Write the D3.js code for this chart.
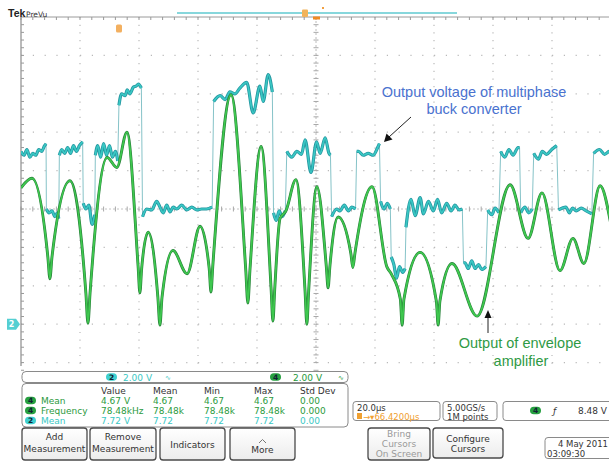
<!DOCTYPE html>
<html lang="en">
<head>
<meta charset="utf-8">
<title>Tek PreVu - envelope amplifier and multiphase buck output</title>
<script type="text/javascript" src="https://cdn.jsdelivr.net/npm/d3@7/dist/d3.min.js"></script>
<style type="text/css">
body { margin: 0; background: #fff; }
svg { display: block; font-family: "DejaVu Sans", sans-serif; }
</style>
</head>
<body>
<script type="text/javascript">

// window size
var w = 609;
var h = 462;

// 20 us/div on the time axis, 2 V/div for both channels
var timeTicks = d3.range(0, 201, 20);
var voltTicks = d3.range(-2, 16, 2);

// channel 2 (cyan): multilevel buck output, one array per flat level [us, V]
var ch2Segments = [
    [[0,9.0],[1,8.8],[2,9.1],[3,8.7],[4,8.9],[5,8.8],[6,9.1],[7,9.0],[8,9.3],[8.5,9.4]],
    [[8.6,6.0],[9.5,5.8],[10.5,5.9],[11.5,5.6],[12.3,5.8],[12.8,5.5]],
    [[13.0,8.8],[13.8,9.1],[14.8,8.9],[15.8,9.2],[16.8,8.9],[17.8,9.3],[18.8,9.0],[19.8,9.3],[20.9,9.5]],
    [[21.1,6.3],[22.0,6.0],[23.0,6.2],[24.1,5.2],[25.0,5.7]],
    [[25.2,8.8],[26.0,9.3],[27.0,8.7],[28.0,9.4],[29.0,8.8],[30.0,9.3],[31.0,8.7],[32.0,9.0],[32.8,8.5]],
    [[33.2,11.4],[34.1,12.0],[35.3,11.9],[36.0,12.2],[36.9,12.0],[38.1,12.35],[39.0,12.4],[39.8,12.5],[40.8,12.3]],
    [[41.2,5.6],[42.6,6.0],[44.3,5.95],[46.0,6.4],[47.1,6.1],[48.2,5.8],[49.4,6.2],[50.5,5.85],[51.6,6.1],[52.8,6.0],[54.5,6.2],[56.2,5.95],[57.9,6.1],[59.6,5.95],[61.2,6.0],[62.9,6.0],[64.8,6.1]],
    [[65.3,11.6],[67.5,11.9],[69.2,11.7],[70.8,12.1],[72.5,12.0],[74.2,12.3],[76.5,12.6],[78.7,11.0],[81.0,12.4],[82.1,11.6],[83.8,13.0],[85.2,12.1]],
    [[85.6,5.8],[86.5,5.4],[87.5,5.9],[88.5,5.6],[89.6,5.9]],
    [[90.1,9.0],[91.8,8.7],[93.5,9.0],[95.1,8.85],[96.3,9.6],[98.3,7.9],[100.2,9.5],[101.4,8.9],[103.1,9.7],[104.4,8.9],[104.9,8.8]],
    [[105.3,5.6],[107.0,6.0],[108.1,5.9],[109.6,6.2],[111.0,5.9],[112.1,6.1],[113.4,6.0]],
    [[113.8,9.0],[114.4,9.0],[116.0,8.8],[117.7,8.9],[119.4,8.8],[120.9,9.2],[121.5,9.4]],
    [[121.9,6.4],[123.0,6.0],[124.2,6.3],[125.2,6.0]],
    [[125.5,3.5],[126.4,3.1],[127.3,2.4],[128.3,3.0],[129.4,2.7],[130.2,2.9]],
    [[130.5,5.05],[132.2,6.5],[133.6,5.65],[135.3,6.6],[136.4,5.75],[138.1,6.4],[139.8,5.9],[141.2,6.5],[142.6,5.8],[144.3,6.3],[145.8,5.9],[147.1,6.2],[148.5,5.95],[149.6,6.0]],
    [[150.0,3.2],[150.5,3.2],[151.6,2.9],[152.8,3.3],[153.9,2.9],[155.1,3.1],[156.2,2.85],[157.6,3.0]],
    [[158.2,5.95],[159.6,5.7],[160.7,6.05],[162.0,5.8]],
    [[162.6,9.0],[164.0,8.7],[165.4,9.1],[166.8,8.8],[168.5,9.2],[169.0,9.2]],
    [[169.4,5.8],[170.8,6.1],[172.1,5.8],[173.3,6.0]],
    [[173.8,8.9],[175.4,8.6],[176.7,9.0],[178.2,8.85],[179.9,9.1],[181.6,9.3]],
    [[182.2,5.95],[184.7,6.1],[185.9,5.8],[187.0,6.05],[188.2,5.9],[189.9,6.05],[191.6,5.9],[193.5,5.75]],
    [[194.1,8.9],[196.1,9.1],[197.8,8.85],[199.5,9.0],[200,8.9]]
];

// channel 4 (green): envelope amplifier output [us, V]
var ch4Trace = [
    [0,7.1],[3.7,7.6],[9.1,3.5],[9.8,2.37],[10.5,3.5],[16.6,7.47],
    [22.0,1.6],[22.7,0.05],[23.4,1.6],[29.2,8.68],[32.5,8.16],[35.9,10.0],
    [39.7,3.0],[40.3,1.63],[40.9,2.9],[43.1,4.79],[46.4,1.4],[47.1,-0.05],[47.8,1.4],
    [51.5,3.84],[56.3,2.63],[60.7,5.1],[63.8,2.9],[64.4,1.68],[65.0,3.0],
    [71.2,11.95],[76.2,2.8],[76.9,1.1],[77.6,2.8],[81.4,9.26],
    [84.8,1.8],[85.4,0.16],[86.0,1.8],[87.8,5.5],[89.8,5.9],[93.2,7.53],
    [96.3,1.7],[96.9,0.0],[97.5,1.7],[100.3,7.16],[103.5,3.0],[104.1,1.89],[104.7,3.0],
    [107.5,5.58],[111.8,3.7],[112.5,2.95],[113.2,3.7],[119.0,7.16],
    [124.0,3.0],[125.6,2.6],[128.6,1.3],[129.2,-0.05],[129.8,1.3],[135.3,3.74],
    [140.8,1.2],[141.4,-0.05],[142.0,1.2],[146.1,3.16],[154.6,0.42],[165.8,7.26],
    [171.9,4.47],[176.6,6.84],[182.7,2.79],[187.1,4.47],[190.8,3.16],[196.3,7.21],[200,5.16]
];

// readouts
var chScales = ["2.00 V", "2.00 V"];
var measHeaders = ["Value", "Mean", "Min", "Max", "Std Dev"];
var measChannels = ["4", "4", "2"];
var measNames = ["Mean", "Frequency", "Mean"];
var measValues = [
    ["4.67 V", "4.67", "4.67", "4.67", "0.00"],
    ["78.48kHz", "78.48k", "78.48k", "78.48k", "0.000"],
    ["7.72 V", "7.72", "7.72", "7.72", "0.00"]
];

var cyan = "#3ac8c4", cyanDark = "#2596a0", green = "#3fc84f", greenDark = "#267f38";
var measColX = [101, 153, 204, 254, 300];

var xScale = d3.scaleLinear().domain([0, 200]).range([21, 611]);
var yScale = d3.scaleLinear().domain([-4, 16]).range([401, 17]);

var svg = d3.select("body")
            .append("svg")
            .attr("width", w)
            .attr("height", h);

//Graticule
var grid = svg.append("g");

grid.selectAll(".vgrid")
    .data(timeTicks.filter(function(d) { return d > 0 && d != 100; }))
    .enter()
    .append("line")
    .attr("x1", function(d) { return xScale(d); })
    .attr("x2", function(d) { return xScale(d); })
    .attr("y1", yScale(16))
    .attr("y2", 364)
    .attr("stroke", "#b9b9b9")
    .attr("stroke-width", 1.2)
    .attr("stroke-dasharray", "1.2,6.48");

grid.selectAll(".hgrid")
    .data(voltTicks.filter(function(d) { return d != 6; }))
    .enter()
    .append("line")
    .attr("x1", xScale(0))
    .attr("x2", w)
    .attr("y1", function(d) { return yScale(d); })
    .attr("y2", function(d) { return yScale(d); })
    .attr("stroke", "#b9b9b9")
    .attr("stroke-width", 1.2)
    .attr("stroke-dasharray", "1.2,10.6");

// centre lines with minor ticks
grid.append("line")
    .attr("x1", xScale(100)).attr("x2", xScale(100))
    .attr("y1", yScale(16)).attr("y2", 364)
    .attr("stroke", "#bcbcbc").attr("stroke-dasharray", "2,2");
grid.append("line")
    .attr("x1", xScale(0)).attr("x2", w)
    .attr("y1", yScale(6)).attr("y2", yScale(6))
    .attr("stroke", "#c4c4c4").attr("stroke-dasharray", "2,2");

var minorV = d3.range(-2.4, 16, 0.4);
var minorT = d3.range(0, 201, 4);

grid.selectAll(".ctickv")
    .data(minorV)
    .enter()
    .append("line")
    .attr("x1", xScale(100) - 2.5).attr("x2", xScale(100) + 2.5)
    .attr("y1", function(d) { return yScale(d); })
    .attr("y2", function(d) { return yScale(d); })
    .attr("stroke", "#a8a8a8");

grid.selectAll(".ctickt")
    .data(minorT)
    .enter()
    .append("line")
    .attr("x1", function(d) { return xScale(d); })
    .attr("x2", function(d) { return xScale(d); })
    .attr("y1", yScale(6) - 2.5).attr("y2", yScale(6) + 2.5)
    .attr("stroke", "#a8a8a8");

// frame edges: left and top, with ticks
grid.append("line")
    .attr("x1", xScale(0)).attr("x2", xScale(0))
    .attr("y1", yScale(16)).attr("y2", 366)
    .attr("stroke", "#8c8c8c").attr("stroke-width", 1.2);
grid.append("line")
    .attr("x1", xScale(0)).attr("x2", w)
    .attr("y1", yScale(16)).attr("y2", yScale(16))
    .attr("stroke", "#9a9a9a").attr("stroke-width", 1);

grid.selectAll(".ltick")
    .data(minorV)
    .enter()
    .append("line")
    .attr("x1", xScale(0)).attr("x2", xScale(0) + 3)
    .attr("y1", function(d) { return yScale(d); })
    .attr("y2", function(d) { return yScale(d); })
    .attr("stroke", "#999");

grid.selectAll(".ttick")
    .data(minorT)
    .enter()
    .append("line")
    .attr("x1", function(d) { return xScale(d); })
    .attr("x2", function(d) { return xScale(d); })
    .attr("y1", yScale(16)).attr("y2", yScale(16) + 3)
    .attr("stroke", "#999");

//Traces
svg.append("clipPath")
   .attr("id", "plotClip")
   .append("rect")
   .attr("x", xScale(0))
   .attr("y", yScale(16))
   .attr("width", w - xScale(0))
   .attr("height", 366 - yScale(16));

var traces = svg.append("g").attr("clip-path", "url(#plotClip)");

var stepLine = d3.line()
                 .x(function(d) { return xScale(d[0]); })
                 .y(function(d) { return yScale(d[1]); });

var smoothLine = d3.line()
                   .curve(d3.curveMonotoneX)
                   .x(function(d) { return xScale(d[0]); })
                   .y(function(d) { return yScale(d[1]); });

// fast edges of ch2 are faint, flat parts are bright
traces.append("path")
      .attr("d", stepLine(ch2Segments.flat()))
      .attr("fill", "none")
      .attr("stroke", "#86c3c8")
      .attr("stroke-width", 1);

traces.selectAll(".seg-under")
      .data(ch2Segments)
      .enter()
      .append("path")
      .attr("d", function(d) { return smoothLine(d); })
      .attr("fill", "none")
      .attr("stroke", cyanDark)
      .attr("stroke-width", 3.2)
      .attr("stroke-linejoin", "round");

traces.selectAll(".seg-top")
      .data(ch2Segments)
      .enter()
      .append("path")
      .attr("d", function(d) { return smoothLine(d); })
      .attr("fill", "none")
      .attr("stroke", cyan)
      .attr("stroke-width", 1.7)
      .attr("stroke-linejoin", "round");

traces.append("path")
      .attr("d", smoothLine(ch4Trace))
      .attr("fill", "none")
      .attr("stroke", greenDark)
      .attr("stroke-width", 2.9)
      .attr("stroke-linejoin", "round");

traces.append("path")
      .attr("d", smoothLine(ch4Trace))
      .attr("fill", "none")
      .attr("stroke", green)
      .attr("stroke-width", 1.8)
      .attr("stroke-linejoin", "round");

//Header and markers
svg.append("text").attr("x", 8).attr("y", 17)
   .attr("font-family", "Liberation Sans, Arial, sans-serif")
   .attr("font-weight", "bold").attr("font-size", "10.5px")
   .attr("fill", "#222").text("Tek");
svg.append("text").attr("x", 26).attr("y", 17)
   .attr("font-size", "7.5px").attr("fill", "#333").text("PreVu");

svg.append("line")
   .attr("x1", 177).attr("x2", 457)
   .attr("y1", 13).attr("y2", 13)
   .attr("stroke", "#5fcad0").attr("stroke-width", 1.5);
svg.append("rect").attr("x", 302).attr("y", 9.5).attr("width", 6).attr("height", 7.5)
   .attr("fill", "#f2b35a").attr("rx", 1);
svg.append("rect").attr("x", 313).attr("y", 16.5).attr("width", 7).attr("height", 3)
   .attr("fill", "#f08a22");
svg.append("rect").attr("x", 322).attr("y", 7).attr("width", 2).attr("height", 2)
   .attr("fill", "#f2a040");
svg.append("rect").attr("x", 116).attr("y", 24.5).attr("width", 6).attr("height", 8)
   .attr("fill", "#f3b060").attr("rx", 1.5);

// ch2 ground marker
svg.append("path")
   .attr("d", "M7," + (yScale(0) - 5.5) + "h9l4,5.5l-4,5.5h-9z")
   .attr("fill", "#55cfd2");
svg.append("text").attr("x", 11.5).attr("y", yScale(0) + 3.2)
   .attr("font-size", "8px").attr("font-weight", "bold")
   .attr("text-anchor", "middle").attr("fill", "#fff").text("2");

//Annotations
var note = svg.append("g").attr("font-family", "Liberation Sans, Arial, sans-serif")
              .attr("font-size", "14.5px").attr("text-anchor", "middle");
note.append("text").attr("x", 474).attr("y", 97).attr("fill", "#4a72cf").text("Output voltage of multiphase");
note.append("text").attr("x", 474).attr("y", 114).attr("fill", "#4a72cf").text("buck converter");
note.append("text").attr("x", 520).attr("y", 348).attr("fill", "#2f9a45").text("Output of envelope");
note.append("text").attr("x", 521).attr("y", 366).attr("fill", "#2f9a45").text("amplifier");

svg.append("line").attr("x1", 411).attr("y1", 117).attr("x2", 389).attr("y2", 137)
   .attr("stroke", "#222").attr("stroke-width", 1);
svg.append("path").attr("d", "M384,142 L386.5,133.5 L392.5,139.5 Z").attr("fill", "#111");
svg.append("line").attr("x1", 488).attr("y1", 333).attr("x2", 488).attr("y2", 316)
   .attr("stroke", "#222").attr("stroke-width", 1);
svg.append("path").attr("d", "M488,310 L484.5,318 L491.5,318 Z").attr("fill", "#111");

//Readout panels
function panel(x0, y0, pw, ph, r) {
    return svg.append("rect")
              .attr("x", x0).attr("y", y0)
              .attr("width", pw).attr("height", ph)
              .attr("rx", r)
              .attr("fill", "#fff")
              .attr("stroke", "#8a8a8a")
              .attr("stroke-width", 1);
}

function pill(x0, yc, label, color) {
    svg.append("rect").attr("x", x0).attr("y", yc - 3.8)
       .attr("width", 11).attr("height", 7.6).attr("rx", 3.8).attr("fill", color);
    svg.append("text").attr("x", x0 + 5.5).attr("y", yc + 2.8)
       .attr("text-anchor", "middle").attr("font-size", "7.5px")
       .attr("font-weight", "bold").attr("fill", "#123").text(label);
}

panel(22, 371.5, 326, 11, 4);
pill(106, 377, "2", "#3fd0d0");
pill(270, 377, "4", "#26a040");
svg.append("text").attr("x", 123).attr("y", 380.5).attr("font-size", "9px")
   .attr("fill", cyan).text(chScales[0]);
svg.append("text").attr("x", 165).attr("y", 380).attr("font-size", "7px")
   .attr("fill", cyan).text("∿");
svg.append("text").attr("x", 293).attr("y", 380.5).attr("font-size", "9px")
   .attr("fill", "#259a3c").text(chScales[1]);
svg.append("text").attr("x", 338).attr("y", 380).attr("font-size", "7px")
   .attr("fill", "#259a3c").text("∿");

panel(22, 383.5, 326, 43.5, 4);

svg.selectAll(".mhead")
   .data(measHeaders)
   .enter()
   .append("text")
   .attr("x", function(d, i) { return measColX[i]; })
   .attr("y", 393.5)
   .attr("font-size", "9px")
   .attr("fill", "#333")
   .text(function(d) { return d; });

measNames.forEach(function(name, r) {
    var yy = 403.5 + r * 10;
    var col = measChannels[r] == "2" ? cyan : "#2b9a3d";
    pill(25, yy - 3, measChannels[r], measChannels[r] == "2" ? "#3fd0d0" : "#26a040");
    svg.append("text").attr("x", 41).attr("y", yy)
       .attr("font-size", "9px").attr("fill", col).text(name);
    svg.selectAll(".mrow" + r)
       .data(measValues[r])
       .enter()
       .append("text")
       .attr("x", function(d, i) { return measColX[i]; })
       .attr("y", yy)
       .attr("font-size", "9px")
       .attr("fill", col)
       .text(function(d) { return d; });
});

// timebase, sample rate, trigger
panel(353, 401.5, 87, 19, 3);
svg.append("text").attr("x", 357).attr("y", 410.5).attr("font-size", "8.5px").attr("fill", "#333").text("20.0µs");
svg.append("rect").attr("x", 357).attr("y", 413).attr("width", 5).attr("height", 6).attr("fill", "#f0a030");
svg.append("text").attr("x", 363).attr("y", 419.5).attr("font-size", "8.5px").attr("fill", "#f0a030").text("→▾66.4200µs");

panel(443, 401.5, 54, 19, 3);
svg.append("text").attr("x", 447).attr("y", 410.5).attr("font-size", "8.5px").attr("fill", "#333").text("5.00GS/s");
svg.append("text").attr("x", 447).attr("y", 419.5).attr("font-size", "8.5px").attr("fill", "#333").text("1M points");

panel(503, 401.5, 112, 19, 3);
pill(530, 410.5, "4", "#26a040");
svg.append("text").attr("x", 553).attr("y", 414).attr("font-size", "9px").attr("font-style", "italic").attr("fill", "#333").text("ƒ");
svg.append("text").attr("x", 607).attr("y", 414).attr("font-size", "9px").attr("text-anchor", "end").attr("fill", "#333").text("8.48 V");

//Buttons
var buttonLabels = [["Add", "Measurement"], ["Remove", "Measurement"], ["Indicators"], ["More"],
                    ["Bring", "Cursors", "On Screen"], ["Configure", "Cursors"]];
var buttonBoxes = [[22, 428, 65, 32], [90, 428, 66, 32], [160, 428, 65, 32], [230, 428, 65, 32],
                   [368, 428, 62, 32], [433, 428, 70, 30]];
var buttonBase = [[440, 451.5], [440, 451.5], [448], [452.5], [437, 447, 457], [442, 452]];

var grad = svg.append("defs").append("linearGradient")
              .attr("id", "btn").attr("x1", 0).attr("x2", 0).attr("y1", 0).attr("y2", 1);
grad.append("stop").attr("offset", "0%").attr("stop-color", "#ffffff");
grad.append("stop").attr("offset", "100%").attr("stop-color", "#ececec");

buttonLabels.forEach(function(lines, i) {
    var b = buttonBoxes[i];
    svg.append("rect")
       .attr("x", b[0]).attr("y", b[1]).attr("width", b[2]).attr("height", b[3])
       .attr("rx", 3).attr("fill", "url(#btn)")
       .attr("stroke", "#4a4a4a").attr("stroke-width", 1.3);
    lines.forEach(function(t, j) {
        svg.append("text")
           .attr("x", b[0] + b[2] / 2)
           .attr("y", buttonBase[i][j])
           .attr("text-anchor", "middle")
           .attr("font-size", "9px")
           .attr("fill", i == 4 ? "#9a9a9a" : "#333")
           .text(t);
    });
});
svg.append("path").attr("d", "M259,443 L262.5,439.5 L266,443").attr("fill", "none").attr("stroke", "#777");

// date
panel(545, 437.5, 68, 21, 3);
svg.append("text").attr("x", 608).attr("y", 447).attr("text-anchor", "end").attr("font-size", "8.5px").attr("fill", "#333").text("4 May 2011");
svg.append("text").attr("x", 547).attr("y", 456.5).attr("font-size", "8.5px").attr("fill", "#333").text("03:09:30");

</script>
</body>
</html>
